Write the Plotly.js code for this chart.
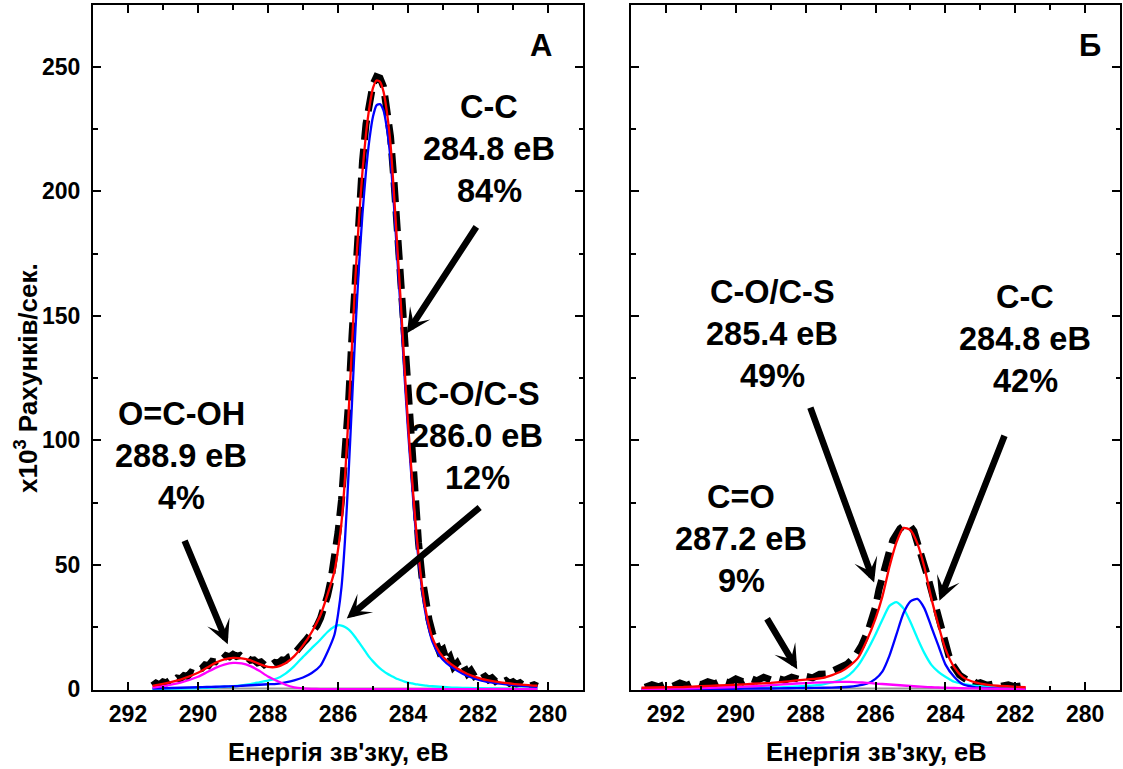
<!DOCTYPE html>
<html><head><meta charset="utf-8">
<script src="https://cdn.plot.ly/plotly-3.0.1.min.js"></script>
<style>html,body{margin:0;padding:0;background:#fff}#chart{width:1123px;height:769px}</style>
</head><body><div id="chart"></div>
<script>
// ===== Panel А : fit components =====
const energyFitA = [291.3, 291.0, 290.5, 290.0, 289.75, 289.5, 289.25, 289.0, 288.75, 288.5, 288.25, 288.0, 287.75, 287.5, 287.25, 287.0, 286.75, 286.5, 286.3, 286.1, 286.0, 285.9, 285.8, 285.7, 285.6, 285.5, 285.4, 285.3, 285.2, 285.1, 285.0, 284.9, 284.8, 284.7, 284.6, 284.5, 284.4, 284.3, 284.2, 284.1, 284.0, 283.9, 283.8, 283.7, 283.6, 283.5, 283.4, 283.3, 283.1, 282.9, 282.6, 282.3, 281.9, 281.5, 281.0, 280.3];
const ccA = [0.3, 0.4, 0.6, 0.8, 0.9, 1.0, 1.1, 1.2, 1.4, 1.6, 1.8, 2.0, 2.2, 2.8, 3.6, 4.7, 6.5, 9.5, 15, 22, 30, 41, 60, 86, 115, 145, 170, 191, 208, 221, 230, 234.5, 235, 232.5, 225, 213, 194, 172, 150, 126, 104, 85, 67, 52, 40, 30.5, 24, 19, 13.5, 10.5, 7.5, 5.3, 3.5, 2.5, 1.7, 1.0];
const coA = [0.1, 0.2, 0.3, 0.5, 0.6, 0.8, 1.0, 1.2, 1.6, 2.1, 2.8, 3.5, 4.3, 6.3, 9.3, 13, 16.5, 20, 23, 25.2, 25.7, 25.6, 25.0, 24.0, 22.6, 20.8, 18.8, 16.8, 14.8, 12.8, 11.2, 9.7, 8.4, 7.3, 6.3, 5.5, 4.8, 4.1, 3.6, 3.1, 2.7, 2.4, 2.1, 1.9, 1.7, 1.5, 1.3, 1.2, 1.0, 0.8, 0.6, 0.5, 0.4, 0.3, 0.2, 0.1];
const coohA = [0.7, 1.3, 2.7, 5.0, 6.8, 8.6, 9.9, 10.6, 10.4, 9.3, 7.4, 5.1, 3.4, 1.8, 0.8, 0.35, 0.15, 0.05, 0, 0, 0, 0, 0, 0, 0, 0, 0, 0, 0, 0, 0, 0, 0, 0, 0, 0, 0, 0, 0, 0, 0, 0, 0, 0, 0, 0, 0, 0, 0, 0, 0, 0, 0, 0, 0, 0];
const envelopeA = [1.4, 2.2, 3.9, 6.6, 8.6, 10.6, 12.0, 12.6, 12.4, 11.6, 10.2, 9.0, 9.0, 10.4, 13.3, 17.6, 23, 29.8, 38, 47.5, 56, 67, 85, 110, 138, 166, 189, 208, 223, 234, 241.5, 244.5, 244, 240, 231.5, 219, 199, 176.5, 154, 129.5, 107, 87.5, 69.3, 54, 41.8, 32.3, 25.5, 20.5, 14.8, 11.6, 8.4, 6.1, 4.2, 3.1, 2.2, 1.4];
const baseEnergyA = [291.3, 280.3];
const baseA = [0.3, 0.3];
// ===== Panel А : measured spectrum =====
const energyDataA = [291.3, 291.2, 291.1, 291.0, 290.9, 290.8, 290.7, 290.6, 290.5, 290.4, 290.3, 290.2, 290.1, 290.0, 289.9, 289.8, 289.7, 289.6, 289.5, 289.4, 289.3, 289.2, 289.1, 289.0, 288.9, 288.8, 288.7, 288.6, 288.5, 288.4, 288.3, 288.2, 288.1, 288.0, 287.9, 287.8, 287.7, 287.6, 287.5, 287.4, 287.3, 287.2, 287.1, 287.0, 286.9, 286.8, 286.7, 286.6, 286.5, 286.4, 286.3, 286.2, 286.1, 286.0, 285.9, 285.8, 285.7, 285.6, 285.5, 285.4, 285.3, 285.2, 285.1, 285.0, 284.9, 284.8, 284.7, 284.6, 284.5, 284.4, 284.3, 284.2, 284.1, 284.0, 283.9, 283.8, 283.7, 283.6, 283.5, 283.4, 283.3, 283.2, 283.1, 283.0, 282.9, 282.8, 282.7, 282.6, 282.5, 282.4, 282.3, 282.2, 282.1, 282.0, 281.9, 281.8, 281.7, 281.6, 281.5, 281.4, 281.3, 281.2, 281.1, 281.0, 280.9, 280.8, 280.7, 280.6, 280.5, 280.4, 280.3];
const countsA = [1.5, 2.5, 1.8, 3.0, 2.6, 3.6, 3.2, 4.5, 4.2, 5.5, 5.2, 6.8, 6.3, 8.0, 8.3, 9.8, 9.5, 11.2, 11.0, 12.4, 12.0, 13.5, 13.0, 14.0, 13.2, 13.6, 12.4, 12.8, 11.6, 11.8, 10.6, 11.0, 9.8, 10.4, 9.8, 10.8, 10.6, 11.8, 11.6, 13.0, 13.4, 15.4, 16.2, 18.5, 20.0, 21.8, 23.2, 25.5, 28.5, 32.5, 37.5, 44, 52, 63, 76, 92, 115, 142, 170, 193, 212, 227, 237, 243, 246, 245.5, 242, 234, 222, 204, 182, 160, 137, 114, 94, 76, 59, 45, 35, 28, 22.5, 19.5, 15, 16, 11.5, 13, 9, 10.5, 7.8, 9.0, 6.2, 7.5, 5.2, 6.0, 4.4, 5.2, 3.8, 4.6, 3.2, 4.0, 2.8, 3.5, 2.4, 3.0, 2.0, 2.6, 1.6, 2.2, 1.4, 1.8, 1.2];

// ===== Panel Б : fit components =====
const energyFitB = [292.7, 292.0, 291.5, 291.0, 290.5, 290.0, 289.5, 289.0, 288.5, 288.0, 287.5, 287.0, 286.75, 286.5, 286.25, 286.0, 285.8, 285.6, 285.4, 285.2, 285.0, 284.8, 284.6, 284.4, 284.2, 284.0, 283.75, 283.5, 283.25, 283.0, 282.5, 282.0, 281.7];
const ccB = [0.1, 0.1, 0.1, 0.1, 0.2, 0.2, 0.3, 0.3, 0.4, 0.5, 0.6, 0.8, 1.0, 1.5, 2.2, 4.2, 7.2, 13.5, 22, 30.5, 35.3, 36.3, 32.5, 25, 17.5, 10, 5, 2.0, 1.1, 0.6, 0.3, 0.2, 0.1];
const coB = [0.1, 0.2, 0.2, 0.3, 0.3, 0.4, 0.5, 0.7, 0.9, 1.3, 2.0, 3.8, 5.8, 9.5, 15.2, 22, 28, 33.5, 35, 32.5, 27, 20.5, 14.5, 9.8, 7.0, 5.0, 3.0, 2.2, 1.6, 1.2, 0.7, 0.4, 0.3];
const c_oB = [0.1, 0.2, 0.3, 0.5, 0.7, 0.9, 1.2, 1.6, 2.1, 2.5, 2.8, 3.0, 2.95, 2.8, 2.6, 2.3, 2.1, 1.9, 1.7, 1.5, 1.3, 1.1, 0.95, 0.8, 0.7, 0.6, 0.5, 0.4, 0.35, 0.3, 0.2, 0.15, 0.1];
const envelopeB = [0.6, 0.8, 0.9, 1.2, 1.5, 1.8, 2.2, 2.6, 3.2, 3.9, 4.6, 7.0, 9.3, 12.6, 19.6, 28.4, 37.4, 49.2, 59, 64.8, 63.9, 58.5, 49, 36.5, 25.8, 16.2, 8.9, 4.9, 3.2, 2.3, 1.4, 1.0, 0.8];
const baseEnergyB = [292.7, 281.7];
const baseB = [0.3, 0.3];
// ===== Panel Б : measured spectrum =====
const energyDataB = [292.6, 292.4, 292.2, 292.0, 291.8, 291.6, 291.4, 291.2, 291.0, 290.8, 290.6, 290.4, 290.2, 290.0, 289.8, 289.6, 289.4, 289.2, 289.0, 288.8, 288.6, 288.4, 288.2, 288.0, 287.8, 287.6, 287.4, 287.2, 287.0, 286.8, 286.6, 286.4, 286.2, 286.0, 285.9, 285.8, 285.7, 285.6, 285.5, 285.4, 285.3, 285.2, 285.1, 285.0, 284.9, 284.8, 284.7, 284.6, 284.5, 284.4, 284.3, 284.2, 284.1, 284.0, 283.9, 283.8, 283.7, 283.6, 283.5, 283.4, 283.3, 283.2, 283.1, 283.0, 282.8, 282.6, 282.4, 282.2, 282.0, 281.8];
const countsB = [0.8, 1.8, 1.0, 2.2, 1.2, 2.5, 1.5, 2.8, 1.8, 3.0, 2.2, 3.5, 2.6, 4.2, 3.0, 4.5, 3.4, 4.8, 3.8, 4.4, 3.6, 4.8, 4.0, 5.2, 4.6, 6.0, 6.2, 7.6, 8.6, 10.2, 13, 17.5, 24, 33, 40, 46, 51, 55.5, 60, 62.5, 64.5, 65.5, 65.8, 65.5, 63.5, 59.5, 54.5, 49.5, 45, 39.5, 33.5, 28, 22.5, 17.5, 13.5, 10, 7.5, 5.8, 4.8, 4.2, 3.0, 3.4, 2.2, 2.6, 1.6, 2.2, 1.2, 1.8, 1.0, 1.4];

// ===== Text =====
const xTickVals = [292, 290, 288, 286, 284, 282, 280];
const yTickVals = [0, 50, 100, 150, 200, 250];
const xTitle = 'Енергія зв\'зку, еВ';
const yTitle = 'x10<sup>3</sup> Рахунків/сек.';
const panelNames = ['А', 'Б'];
const labelsA = [['C-C', '284.8 еВ', '84%'], ['C-O/C-S', '286.0 еВ', '12%'], ['O=C-OH', '288.9 еВ', '4%']];
const labelsB = [['C-O/C-S', '285.4 еВ', '49%'], ['C-C', '284.8 еВ', '42%'], ['C=O', '287.2 еВ', '9%']];

// ===== Styling / layout =====
const FONT = 'Liberation Sans, Arial, Helvetica, sans-serif';
const L = 93, R = 3, T = 5, B = 79, PW = 1123 - L - R, PH = 769 - T - B;
const px = (x) => (x - L) / PW;
const py = (y) => (T + PH - y) / PH;

const dataLine = {color: '#000', width: 7, dash: '20px,9px'};
function fit(x, y, color, xa, ya, w) {
  return {x, y, type: 'scatter', mode: 'lines', xaxis: xa, yaxis: ya,
    line: {color, width: w || 2.3, shape: 'spline', smoothing: 0.6}, hoverinfo: 'skip', showlegend: false};
}
const traces = [
  {x: energyDataA, y: countsA, type: 'scatter', mode: 'lines', line: dataLine, xaxis: 'x', yaxis: 'y', showlegend: false},
  {x: baseEnergyA, y: baseA, type: 'scatter', mode: 'lines', line: {color: '#999', width: 2}, xaxis: 'x', yaxis: 'y', showlegend: false},
  fit(energyFitA, coA, '#00ffff', 'x', 'y'),
  fit(energyFitA, ccA, '#0000ff', 'x', 'y'),
  fit(energyFitA, coohA, '#ff00ff', 'x', 'y'),
  fit(energyFitA, envelopeA, '#ff0000', 'x', 'y'),
  {x: energyDataB, y: countsB, type: 'scatter', mode: 'lines', line: dataLine, xaxis: 'x2', yaxis: 'y2', showlegend: false},
  {x: baseEnergyB, y: baseB, type: 'scatter', mode: 'lines', line: {color: '#999', width: 2}, xaxis: 'x2', yaxis: 'y2', showlegend: false},
  fit(energyFitB, coB, '#00ffff', 'x2', 'y2'),
  fit(energyFitB, ccB, '#0000ff', 'x2', 'y2'),
  fit(energyFitB, c_oB, '#ff00ff', 'x2', 'y2'),
  fit(energyFitB, envelopeB, '#ff0000', 'x2', 'y2')
];

const axBase = {
  showline: true, linewidth: 2, linecolor: '#000', mirror: 'ticks',
  ticks: 'inside', ticklen: 8, tickwidth: 2, tickcolor: '#000',
  showgrid: false, zeroline: false,
  tickfont: {family: FONT, size: 23, weight: 'bold', color: '#000'},
  fixedrange: true
};
const xAx = (dom, anchor) => Object.assign({}, axBase, {
  domain: dom, anchor, range: [293, 279], tickmode: 'array', tickvals: xTickVals, ticklabelstandoff: 2,
  minor: {dtick: 1, tick0: 279, ticks: 'inside', ticklen: 4.5, tickwidth: 2, tickcolor: '#000', showgrid: false}
});
const yAx = (anchor, labels) => Object.assign({}, axBase, {
  anchor, range: [-0.3, 274.8], tickmode: 'array', tickvals: yTickVals, showticklabels: labels, ticklabelstandoff: 6,
  minor: {dtick: 25, tick0: 0, ticks: 'inside', ticklen: 4.5, tickwidth: 2, tickcolor: '#000', showgrid: false}
});

const annotations = [];
function addLabel(lines, cx, cy) {
  lines.forEach((t, i) => annotations.push({
    text: t, xref: 'paper', yref: 'paper', x: px(cx), y: py(cy + i * 42),
    xanchor: 'center', yanchor: 'middle', showarrow: false,
    font: {family: FONT, size: 32.5, weight: 'bold', color: '#000'}
  }));
}
const labelPosA = [[489, 107], [477, 394], [181, 414]];
const labelPosB = [[772, 292], [1025, 297], [741, 497]];
labelsA.forEach((l, i) => addLabel(l, labelPosA[i][0], labelPosA[i][1]));
labelsB.forEach((l, i) => addLabel(l, labelPosB[i][0], labelPosB[i][1]));

function addArrow(xa, ya, tip, tail) {
  annotations.push({
    text: '', xref: xa, yref: ya, axref: xa, ayref: ya,
    x: tip[0], y: tip[1], ax: tail[0], ay: tail[1],
    showarrow: true, arrowhead: 3, arrowsize: 0.62, arrowwidth: 6.5, arrowcolor: '#000', standoff: 0
  });
}
addArrow('x', 'y', [284.03, 143], [282.02, 186.3]);
addArrow('x', 'y', [285.75, 28.4], [281.91, 73.5]);
addArrow('x', 'y', [289.15, 18.1], [290.40, 60.2]);
addArrow('x2', 'y2', [286.04, 42.9], [287.88, 113.7]);
addArrow('x2', 'y2', [284.17, 35.5], [282.29, 102.4]);
addArrow('x2', 'y2', [288.24, 8.0], [289.13, 28.9]);

// panel letters
annotations.push({text: panelNames[0], xref: 'paper', yref: 'paper', x: px(541), y: py(46), xanchor: 'center', yanchor: 'middle', showarrow: false, font: {family: FONT, size: 31, weight: 'bold', color: '#000'}});
annotations.push({text: panelNames[1], xref: 'paper', yref: 'paper', x: px(1090), y: py(46), xanchor: 'center', yanchor: 'middle', showarrow: false, font: {family: FONT, size: 31, weight: 'bold', color: '#000'}});
// axis titles
annotations.push({text: xTitle, xref: 'paper', yref: 'paper', x: px(338), y: py(752), xanchor: 'center', yanchor: 'middle', showarrow: false, font: {family: FONT, size: 25.5, weight: 'bold', color: '#000'}});
annotations.push({text: xTitle, xref: 'paper', yref: 'paper', x: px(876), y: py(752), xanchor: 'center', yanchor: 'middle', showarrow: false, font: {family: FONT, size: 25.5, weight: 'bold', color: '#000'}});
annotations.push({text: yTitle, xref: 'paper', yref: 'paper', x: px(26), y: py(378), xanchor: 'center', yanchor: 'middle', textangle: -90, showarrow: false, font: {family: FONT, size: 26, weight: 'bold', color: '#000'}});

const layout = {
  width: 1123, height: 769,
  margin: {l: L, r: R, t: T, b: B, pad: 0},
  paper_bgcolor: '#fff', plot_bgcolor: '#fff',
  showlegend: false,
  xaxis: xAx([0, 490 / PW], 'y'),
  xaxis2: xAx([538 / PW, 1], 'y2'),
  yaxis: yAx('x', true),
  yaxis2: yAx('x2', false),
  annotations
};
Plotly.newPlot('chart', traces, layout, {staticPlot: true, displayModeBar: false});
</script>
</body></html>
